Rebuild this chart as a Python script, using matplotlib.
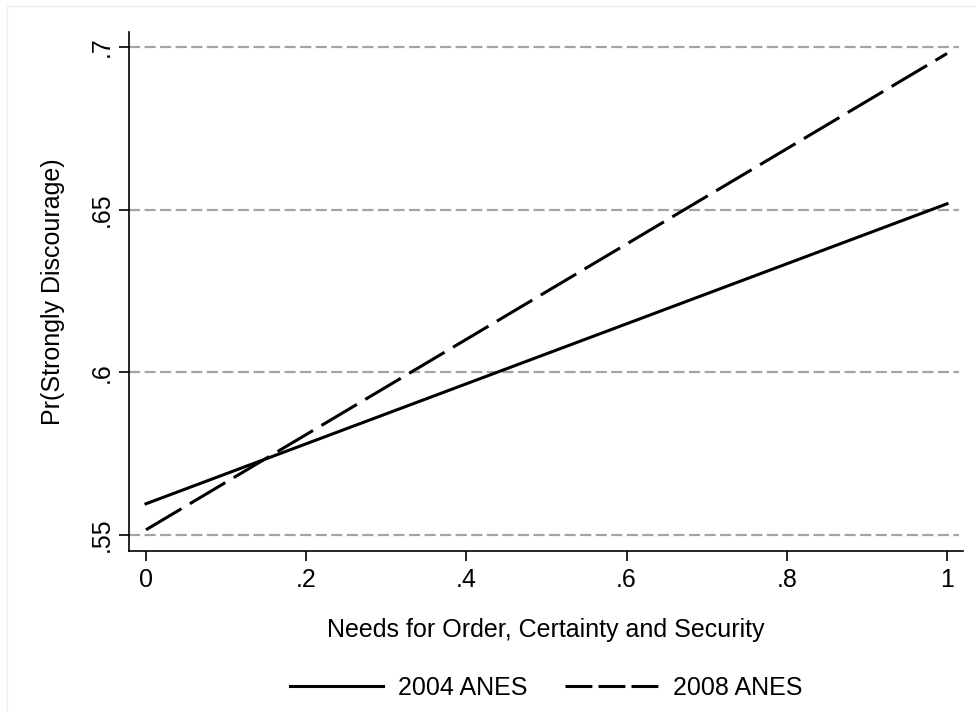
import numpy as np
import matplotlib
matplotlib.use("Agg")
import matplotlib.pyplot as plt
from matplotlib.patches import Rectangle
from matplotlib.lines import Line2D

plt.rcParams['font.family'] = ['Liberation Sans', 'DejaVu Sans']

# predicted probabilities at the two ends of the scale
x_vals = [0, 1]
anes_2004 = [0.5596, 0.6518]
anes_2008 = [0.5516, 0.6980]

xticks = [0, 0.2, 0.4, 0.6, 0.8, 1]
xtick_labels = ['0', '.2', '.4', '.6', '.8', '1']
yticks = [0.55, 0.6, 0.65, 0.7]
ytick_labels = ['.55', '.6', '.65', '.7']

fs = 18

fig = plt.figure(figsize=(9.76, 7.12), dpi=100)
ax = fig.add_axes([129/976, 1 - 551/712, (963 - 129)/976, (551 - 32)/712])

# faint outer frame like stata's graph region
fig.patches.append(Rectangle((7/976, -0.1), 1.2, 1 - 6/712 + 0.1, transform=fig.transFigure,
                             fill=False, edgecolor='#eeeeee', linewidth=1))

for yv in yticks:
    ax.axhline(yv, color='#a4a4a4', linestyle=(0, (5, 2)), linewidth=1.6, zorder=1,
               xmin=0, xmax=(959 - 129)/(963 - 129))

ax.plot(x_vals, anes_2004, color='black', linewidth=2.2, zorder=3)
ax.plot(x_vals, anes_2008, color='black', linewidth=2.2, dashes=(13.5, 3.2), zorder=3)

ax.set_xlim(-17/801, 1 + 16/801)
ax.set_ylim(0.55 - 16/3253, 0.7 + 15/3253)
ax.set_xticks(xticks)
ax.set_xticklabels(xtick_labels, fontsize=fs)
ax.set_yticks(yticks)
ax.set_yticklabels(ytick_labels, fontsize=fs, rotation=90, va='center')
ax.tick_params(direction='out', length=7, width=1.2)
ax.tick_params(axis='x', pad=5)
ax.tick_params(axis='y', pad=4)

for s in ['top', 'right']:
    ax.spines[s].set_visible(False)
for s in ['left', 'bottom']:
    ax.spines[s].set_linewidth(1.2)

ax.set_xlabel('Needs for Order, Certainty and Security', fontsize=fs, labelpad=19)
ax.set_ylabel('Pr(Strongly Discourage)', fontsize=fs, labelpad=18)

# legend keys use shorter dashes than the plotted line
handles = [Line2D([], [], color='black', linewidth=2.2),
           Line2D([], [], color='black', linewidth=2.2, dashes=(8.8, 2.0))]
fig.legend(handles, ['2004 ANES', '2008 ANES'], loc='center',
           bbox_to_anchor=(546/976, 1 - 688/712), ncol=2, frameon=False,
           fontsize=fs, handlelength=3.72, handletextpad=0.6, columnspacing=1.5)

fig.savefig('out.png', dpi=100)
